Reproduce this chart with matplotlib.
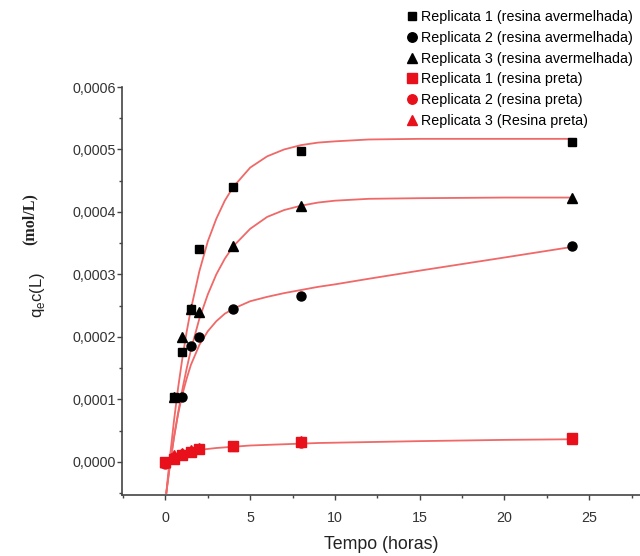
import matplotlib.pyplot as plt
from matplotlib.ticker import FuncFormatter, MultipleLocator

plt.rcParams['font.family'] = ['Liberation Sans', 'DejaVu Sans']

# black series (resina avermelhada)
t_r1 = [0, 0.5, 1, 1.5, 2, 4, 8, 24]
q_r1 = [0, 0.000103, 0.000175, 0.000245, 0.00034, 0.00044, 0.000497, 0.000512]
t_r2 = [0, 1, 1.5, 2, 4, 8, 24]
q_r2 = [0, 0.000103, 0.000185, 0.0002, 0.000245, 0.000265, 0.000345]
t_r3 = [0, 0.5, 1, 1.5, 2, 4, 8, 24]
q_r3 = [0, 0.000103, 0.0002, 0.000245, 0.00024, 0.000345, 0.00041, 0.000422]

# red series (resina preta)
t_p = [0, 0.5, 1, 1.5, 2, 4, 8, 24]
q_p1 = [0, 0.000005, 0.00001, 0.000015, 0.00002, 0.000025, 0.000032, 0.000038]
q_p2 = [-0.000003, 0.000008, 0.000012, 0.000016, 0.000021, 0.000025, 0.00003, 0.000036]
q_p3 = [0, 0.00001, 0.000014, 0.000018, 0.000022, 0.000026, 0.000033, 0.000037]

# fitted curves
t_fit = [0.05, 0.25, 0.5, 0.75, 1, 1.25, 1.5, 2, 2.5, 3, 3.5, 4, 5, 6, 7, 8, 9, 10, 12, 15, 20, 24]
fit_r1 = [-0.00005, 0.000004, 0.000065, 0.000119, 0.000166, 0.000208, 0.000244, 0.000305,
          0.000353, 0.000389, 0.000418, 0.00044, 0.000471, 0.000489, 0.0005, 0.000507,
          0.000511, 0.000513, 0.000516, 0.000517, 0.000517, 0.000517]
fit_r3 = [-0.00005, -0.000009, 0.000038, 0.000079, 0.000116, 0.000149, 0.000179, 0.000229,
          0.000268, 0.0003, 0.000325, 0.000345, 0.000373, 0.000392, 0.000403, 0.00041,
          0.000415, 0.000418, 0.000421, 0.000422, 0.000423, 0.000423]
fit_r2 = [-0.00005, -0.0000065, 0.000039, 0.000077, 0.000108, 0.000133, 0.000155, 0.000187,
          0.000209, 0.000225, 0.000237, 0.000245, 0.000257, 0.000264, 0.00027, 0.000275,
          0.00028, 0.000284, 0.000293, 0.000306, 0.000327, 0.000344]
fit_p = [-0.000005, 0.000004, 0.000009, 0.000012, 0.000014, 0.0000155, 0.000017, 0.000019,
         0.0000205, 0.000022, 0.000023, 0.000024, 0.000026, 0.000027, 0.000028, 0.000029,
         0.00003, 0.0000305, 0.0000315, 0.000033, 0.000035, 0.000036]

fig = plt.figure(figsize=(6.4, 5.56), dpi=100)
ax = fig.add_axes([0.191, 0.11, 0.809, 0.7335])

line_c = '#f06868'
for f in (fit_r1, fit_r2, fit_r3, fit_p):
    ax.plot(t_fit, f, color=line_c, lw=1.3, zorder=1)

red = '#e8101a'
ax.plot(t_r1, q_r1, 's', color='black', ms=6, ls='none', label='Replicata 1 (resina avermelhada)', zorder=3)
ax.plot(t_r2, q_r2, 'o', color='black', ms=6.5, ls='none', label='Replicata 2 (resina avermelhada)', zorder=3)
ax.plot(t_r3, q_r3, '^', color='black', ms=7, ls='none', label='Replicata 3 (resina avermelhada)', zorder=3)
ax.plot(t_p, q_p1, 's', color=red, ms=6.5, ls='none', label='Replicata 1 (resina preta)', zorder=4)
ax.plot(t_p, q_p2, 'o', color=red, ms=6.5, ls='none', label='Replicata 2 (resina preta)', zorder=4)
ax.plot(t_p, q_p3, '^', color=red, ms=7, ls='none', label='Replicata 3 (Resina preta)', zorder=4)

ax.set_xlim(-2.55, 28)
ax.set_ylim(-0.000053, 0.0006)
ax.spines['top'].set_visible(False)
ax.spines['right'].set_visible(False)
for s in ('left', 'bottom'):
    ax.spines[s].set_color('#444444')
    ax.spines[s].set_linewidth(1.2)

ax.xaxis.set_major_locator(MultipleLocator(5))
ax.xaxis.set_minor_locator(MultipleLocator(2.5))
ax.yaxis.set_major_locator(MultipleLocator(0.0001))
ax.yaxis.set_minor_locator(MultipleLocator(0.00005))
ax.yaxis.set_major_formatter(FuncFormatter(lambda v, p: f'{v:.4f}'.replace('.', ',').replace('-0,0000', '0,0000')))
ax.tick_params(which='major', length=3.5, width=1, colors='#444444', labelcolor='#333333', labelsize=10.3)
ax.tick_params(which='minor', length=2.5, width=1, colors='#444444')
ax.tick_params(axis='y', pad=1)
ax.tick_params(axis='x', pad=8)

ax.set_xlabel('Tempo (horas)', fontsize=12.8, color='#222222', labelpad=8)
fig.text(0.059, 0.469, r'q$_\mathregular{e}$c(L)', rotation=90, fontsize=12, color='#222222',
         ha='center', va='center')
fig.text(0.047, 0.606, '(mol/L)', rotation=90, fontsize=11.5, color='#222222',
         ha='center', va='center', family='Liberation Serif', fontweight='bold')

fig.legend(loc='upper right', bbox_to_anchor=(0.995, 0.99), frameon=False, fontsize=10.3,
           handlelength=0.8, handletextpad=0.2, labelspacing=0.48, borderaxespad=0.1,
           borderpad=0.2, markerscale=1.05)

fig.savefig('out.png', dpi=100)
